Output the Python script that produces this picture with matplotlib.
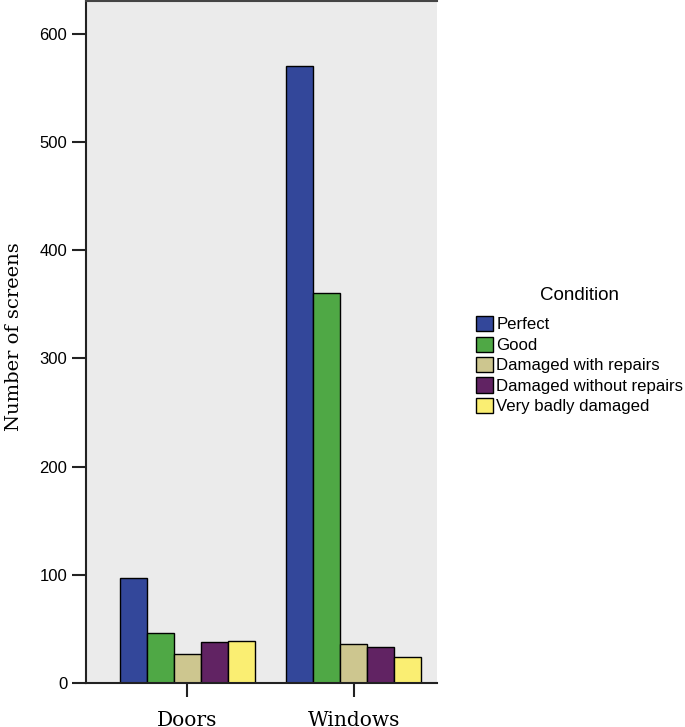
import matplotlib
matplotlib.use("Agg")
import matplotlib.pyplot as plt
import numpy as np

categories = ["Doors", "Windows"]
conditions = ["Perfect", "Good", "Damaged with repairs", "Damaged without repairs", "Very badly damaged"]
perfect = [97, 570]
good = [46, 360]
damaged_with = [27, 36]
damaged_without = [38, 33]
very_bad = [39, 24]
yticks = [0, 100, 200, 300, 400, 500, 600]

series = [perfect, good, damaged_with, damaged_without, very_bad]
colors = ["#33479a", "#4fa845", "#cdc68f", "#612363", "#faee72"]

fig = plt.figure(figsize=(6.85, 7.27), dpi=100)
ax = fig.add_axes([0.1255, 0.0605, 0.512, 0.938])
ax.set_facecolor("#ebebeb")

x = np.arange(len(categories))
w = 0.162
n = len(series)
handles = []
for i, (vals, c) in enumerate(zip(series, colors)):
    b = ax.bar(x + (i - (n - 1) / 2) * w, vals, width=w, color=c,
               edgecolor="black", linewidth=1.0, label=conditions[i])
    handles.append(b)

ax.set_xlim(-0.61, 1.5)
ax.set_ylim(0, 630)
ax.set_yticks(yticks)
ax.set_yticklabels([str(v) for v in yticks], fontsize=12, family="Liberation Sans")
ax.set_xticks(x)
ax.set_xticklabels(categories, fontsize=14.5, family="DejaVu Serif")
ax.tick_params(axis="both", direction="out", length=10, width=1.5, color="#222222")
ax.tick_params(axis="x", pad=10)
ax.set_ylabel("Number of screens", fontsize=14, family="DejaVu Serif")
ax.yaxis.set_label_coords(-0.18, 0.5 + 5.5 / 682)

for s in ["left", "bottom"]:
    ax.spines[s].set_linewidth(1.5)
    ax.spines[s].set_color("#222222")
ax.spines["top"].set_linewidth(1.5)
ax.spines["top"].set_color("#444444")
ax.spines["right"].set_visible(False)

leg = fig.legend(handles=handles, labels=conditions, loc="upper left",
                 bbox_to_anchor=(0.685, 0.615), frameon=False,
                 title="Condition", prop={"family": "Liberation Sans", "size": 12.1},
                 title_fontproperties={"family": "Liberation Sans", "size": 13.5},
                 handlelength=1.02, handleheight=1.02, handletextpad=0.2,
                 labelspacing=0.24, borderaxespad=0)
leg._legend_box.sep = 9
for h in leg.legend_handles:
    h.set_edgecolor("black")
    h.set_linewidth(1.0)

fig.savefig("out.png", dpi=100)
